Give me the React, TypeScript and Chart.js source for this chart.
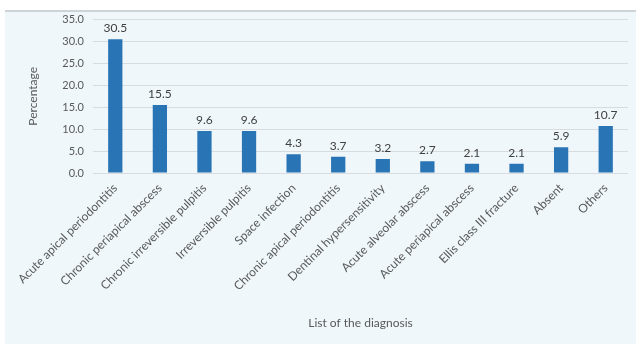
import React, { useEffect, useRef } from "react";
import { Chart, registerables } from "chart.js";

Chart.register(...registerables);

const diagnoses: string[] = [
  "Acute apical periodontitis",
  "Chronic periapical abscess",
  "Chronic irreversible pulpitis",
  "Irreversible pulpitis",
  "Space infection",
  "Chronic apical periodontitis",
  "Dentinal hypersensitivity",
  "Acute alveolar abscess",
  "Acute periapical abscess",
  "Ellis class III fracture",
  "Absent",
  "Others",
];

const percentages: number[] = [30.5, 15.5, 9.6, 9.6, 4.3, 3.7, 3.2, 2.7, 2.1, 2.1, 5.9, 10.7];

const yTickValues: number[] = [0, 5, 10, 15, 20, 25, 30, 35];

const FONT = "Lato, 'Open Sans', sans-serif";
const TEXT = "#595959";

// Writes each bar's value just above its top
const valueLabels = {
  id: "valueLabels",
  afterDatasetsDraw(chart: any) {
    const ctx = chart.ctx;
    const meta = chart.getDatasetMeta(0);
    const data = chart.data.datasets[0].data as number[];
    ctx.save();
    ctx.font = `12px ${FONT}`;
    ctx.fillStyle = "#404040";
    ctx.textAlign = "center";
    ctx.textBaseline = "bottom";
    meta.data.forEach((bar: any, i: number) => {
      ctx.fillText(data[i].toFixed(1), bar.x, bar.y - 5);
    });
    ctx.restore();
  },
};

export default function App() {
  const canvasRef = useRef<HTMLCanvasElement | null>(null);

  useEffect(() => {
    document.body.style.margin = "0";
    const canvas = canvasRef.current;
    if (!canvas) return;
    const chart = new Chart(canvas, {
      type: "bar",
      data: {
        labels: diagnoses,
        datasets: [
          {
            data: percentages,
            backgroundColor: "#2874b4",
            barPercentage: 0.64,
            categoryPercentage: 0.5,
          },
        ],
      },
      options: {
        animation: false,
        responsive: false,
        maintainAspectRatio: false,
        layout: { padding: { left: 0, right: 8, top: 2, bottom: 14 } },
        plugins: {
          legend: { display: false },
          tooltip: { enabled: false },
        },
        scales: {
          x: {
            afterFit(scale: any) {
              scale.height = 157;
            },
            grid: { display: false },
            border: { display: false },
            ticks: {
              color: TEXT,
              font: { family: FONT, size: 12 },
              minRotation: 45,
              maxRotation: 45,
              autoSkip: false,
              padding: 0,
            },
            title: {
              display: true,
              text: "List of the diagnosis",
              color: TEXT,
              font: { family: FONT, size: 12 },
              padding: { top: 4, bottom: 0 },
            },
          },
          y: {
            min: 0,
            max: 35,
            afterBuildTicks(scale: any) {
              scale.ticks = yTickValues.map((v) => ({ value: v }));
            },
            afterFit(scale: any) {
              scale.width = 88;
            },
            grid: { color: "#d9dcde", lineWidth: 1, drawTicks: false },
            border: { display: false },
            ticks: {
              color: TEXT,
              font: { family: FONT, size: 11 },
              padding: 9,
              callback: (v: any) => Number(v).toFixed(1),
            },
            title: {
              display: true,
              text: "Percentage",
              color: TEXT,
              font: { family: FONT, size: 12 },
              padding: { top: 21, bottom: 0 },
            },
          },
        },
      },
      plugins: [valueLabels],
    });
    return () => chart.destroy();
  }, []);

  return (
    <div style={{ position: "relative", width: 641, height: 344, background: "#ffffff", overflow: "hidden" }}>
      <div
        style={{
          position: "absolute",
          left: 5,
          top: 10,
          width: 631,
          height: 334,
          background: "#eff7fb",
          borderTop: "2px solid #cdd4d8",
          boxSizing: "border-box",
        }}
      />
      <canvas
        ref={canvasRef}
        width={631}
        height={340}
        style={{ position: "absolute", left: 5, top: 4, display: "block" }}
      />
    </div>
  );
}
